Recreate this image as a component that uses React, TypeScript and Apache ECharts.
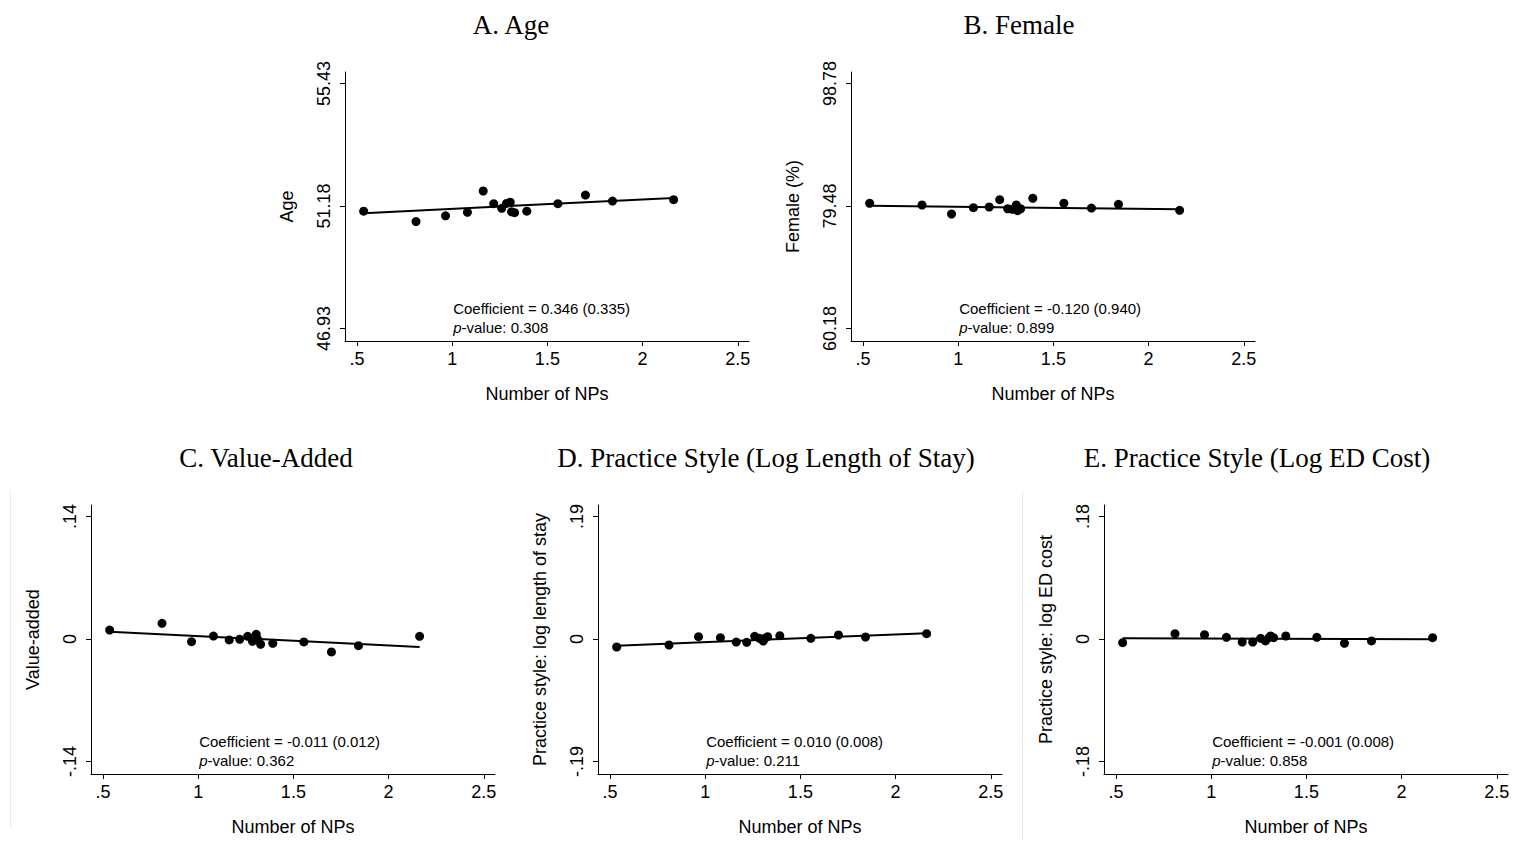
import React, { useEffect, useRef } from "react";
import * as echarts from "echarts";

// Number of NPs (x values shared by all panels)
const npCount = [0.535, 0.81, 0.965, 1.08, 1.163, 1.218, 1.26, 1.285, 1.305, 1.312, 1.328, 1.392, 1.555, 1.70, 1.842, 2.163];

const ageVals = [51.0, 50.64, 50.84, 50.96, 51.7, 51.26, 51.1, 51.27, 51.31, 50.98, 50.95, 51.0, 51.26, 51.56, 51.35, 51.4];
const femaleVals = [79.91, 79.64, 78.22, 79.21, 79.32, 80.48, 79.05, 78.96, 79.64, 78.74, 79.05, 80.7, 79.91, 79.16, 79.75, 78.8];
const valueAddedVals = [0.0102, 0.0179, -0.0031, 0.0034, -0.0011, -0.0003, 0.0031, -0.0026, 0.0053, -0.0003, -0.006, -0.0049, -0.0034, -0.0148, -0.0076, 0.0031];
const losVals = [-0.0124, -0.0093, 0.0036, 0.002, -0.0047, -0.0052, 0.0041, 0.001, -0.0031, 0.001, 0.0036, 0.0052, 0.001, 0.0062, 0.0031, 0.0083];
const edCostVals = [-0.0054, 0.0078, 0.0064, 0.0024, -0.0044, -0.0044, 0.001, -0.0029, 0.0024, 0.0044, 0.002, 0.0044, 0.0024, -0.0064, -0.0029, 0.002];

// Fitted lines (endpoints)
const fitAge = [[0.535, 50.93], [2.163, 51.46]];
const fitFemale = [[0.535, 79.53], [2.163, 78.96]];
const fitValueAdded = [[0.535, 0.0083], [2.163, -0.0091]];
const fitLos = [[0.535, -0.0103], [2.163, 0.0088]];
const fitEdCost = [[0.535, 0.0012], [2.163, -0.0004]];

const xTicks = [0.5, 1, 1.5, 2, 2.5];
const yTicksAge = [46.93, 51.18, 55.43];
const yTicksFemale = [60.18, 79.48, 98.78];
const yTicksValueAdded = [-0.14, 0, 0.14];
const yTicksLos = [-0.19, 0, 0.19];
const yTicksEdCost = [-0.18, 0, 0.18];

const titles = [
  "A. Age",
  "B. Female",
  "C. Value-Added",
  "D. Practice Style (Log Length of Stay)",
  "E. Practice Style (Log ED Cost)",
];
const yNames = ["Age", "Female (%)", "Value-added", "Practice style: log length of stay", "Practice style: log ED cost"];
const coefTexts = [
  "Coefficient = 0.346 (0.335)",
  "Coefficient = -0.120 (0.940)",
  "Coefficient = -0.011 (0.012)",
  "Coefficient = 0.010 (0.008)",
  "Coefficient = -0.001 (0.008)",
];
const pTexts = ["0.308", "0.899", "0.362", "0.211", "0.858"];

const SANS = "'Liberation Sans', Arial, sans-serif";
const SERIF = "'Liberation Serif', 'Times New Roman', serif";

function fmt(v: number): string {
  let s = String(Number(v.toFixed(2)));
  s = s.replace(/^0\./, ".").replace(/^-0\./, "-.");
  return s;
}

export default function App() {
  const ref = useRef<HTMLDivElement>(null);
  useEffect(() => {
    if (!ref.current) return;
    const chart = echarts.init(ref.current, null, { renderer: "svg" });

    const W = 404;
    const H = 269;
    const grids = [
      { left: 345, top: 72 },
      { left: 851, top: 72 },
      { left: 91, top: 505 },
      { left: 598, top: 505 },
      { left: 1104, top: 505 },
    ];
    const xMin = 0.437;
    const xMax = 2.559;
    const yTickSets = [yTicksAge, yTicksFemale, yTicksValueAdded, yTicksLos, yTicksEdCost];
    const vals = [ageVals, femaleVals, valueAddedVals, losVals, edCostVals];
    const fits = [fitAge, fitFemale, fitValueAdded, fitLos, fitEdCost];
    const titleCenters = [511, 1019, 266, 766, 1257];

    const axisLineStyle = { color: "#000", width: 1 };

    const xAxes = grids.map((g, i) => ({
      type: "value",
      gridIndex: i,
      min: xMin,
      max: xMax,
      splitLine: { show: false },
      axisLine: { show: true, onZero: false, lineStyle: axisLineStyle },
      axisTick: { show: true, length: 5, customValues: xTicks, lineStyle: axisLineStyle },
      axisLabel: {
        customValues: xTicks,
        formatter: (v: number) => fmt(v),
        color: "#000",
        fontFamily: SANS,
        fontSize: 18,
        margin: 9,
      },
      name: "Number of NPs",
      nameLocation: "middle",
      nameGap: 44,
      nameTextStyle: { color: "#000", fontFamily: SANS, fontSize: 18 },
    }));

    const yAxes = grids.map((g, i) => {
      const t = yTickSets[i];
      const span = t[2] - t[0];
      const extraTop = (11.5 / 245) * span;
      const extraBot = (12.5 / 245) * span;
      return {
        type: "value",
        gridIndex: i,
        min: t[0] - extraBot,
        max: t[2] + extraTop,
        splitLine: { show: false },
        axisLine: { show: true, onZero: false, lineStyle: axisLineStyle },
        axisTick: { show: true, length: 5, customValues: t, lineStyle: axisLineStyle },
        axisLabel: {
          customValues: t,
          formatter: (v: number) => fmt(v),
          rotate: 90,
          color: "#000",
          fontFamily: SANS,
          fontSize: 18,
          margin: 12,
        },
        name: yNames[i],
        nameLocation: "middle",
        nameGap: 49,
        nameTextStyle: { color: "#000", fontFamily: SANS, fontSize: 18 },
      };
    });

    const series: any[] = [];
    vals.forEach((v, i) => {
      series.push({
        type: "line",
        xAxisIndex: i,
        yAxisIndex: i,
        data: fits[i],
        symbol: "none",
        lineStyle: { color: "#000", width: 2 },
        silent: true,
        z: 2,
      });
      series.push({
        type: "scatter",
        xAxisIndex: i,
        yAxisIndex: i,
        data: npCount.map((x, k) => [x, v[k]]),
        symbol: "circle",
        symbolSize: 9,
        itemStyle: { color: "#000", opacity: 1 },
        z: 3,
      });
    });

    const graphic: any[] = [];
    // faint panel borders
    graphic.push({ type: "line", shape: { x1: 10.5, y1: 490, x2: 10.5, y2: 828 }, style: { stroke: "#ececec", lineWidth: 1 } });
    graphic.push({ type: "line", shape: { x1: 1022.5, y1: 492, x2: 1022.5, y2: 840 }, style: { stroke: "#ececec", lineWidth: 1 } });

    grids.forEach((g, i) => {
      const titleY = i < 2 ? 25 : 458;
      graphic.push({
        type: "text",
        x: titleCenters[i],
        y: titleY,
        style: {
          text: titles[i],
          font: `27px ${SERIF}`,
          fill: "#000",
          align: "center",
          verticalAlign: "middle",
        },
      });
      const tx = g.left + (1 - xMin) * (W / (xMax - xMin)) + 1;
      const ty = g.top + 236;
      graphic.push({
        type: "text",
        x: tx,
        y: ty,
        style: {
          text: coefTexts[i],
          font: `15px ${SANS}`,
          fill: "#000",
          align: "left",
          verticalAlign: "middle",
        },
      });
      graphic.push({
        type: "text",
        x: tx,
        y: ty + 19,
        style: {
          text: `{i|p}{n|-value: ${pTexts[i]}}`,
          fill: "#000",
          align: "left",
          verticalAlign: "middle",
          rich: {
            i: { font: `italic 15px ${SANS}`, fill: "#000" },
            n: { font: `15px ${SANS}`, fill: "#000" },
          },
        },
      });
    });

    chart.setOption({
      animation: false,
      backgroundColor: "#fff",
      grid: grids.map((g) => ({ left: g.left, top: g.top, width: W, height: H, containLabel: false })),
      xAxis: xAxes,
      yAxis: yAxes,
      series,
      graphic,
    });

    return () => chart.dispose();
  }, []);

  return (
    <div
      ref={ref}
      style={{ position: "fixed", left: 0, top: 0, width: 1514, height: 850, background: "#fff" }}
    />
  );
}
